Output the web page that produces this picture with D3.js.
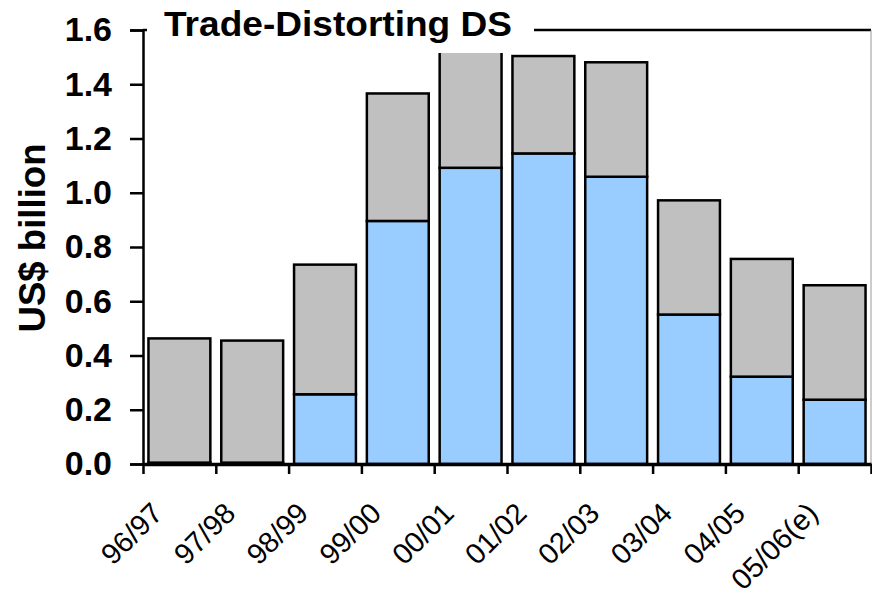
<!DOCTYPE html>
<html>
<head>
<meta charset="utf-8">
<script src="https://cdn.jsdelivr.net/npm/d3@7"></script>
<style>
  body { margin: 0; background: #fff; }
  svg { display: block; font-family: "Liberation Sans", Arial, sans-serif; }
</style>
</head>
<body>
<div class="chart"></div>
<script>
const WIDTH = 872;
const HEIGHT = 597;
const LEFT = 143, RIGHT = 871, TOP = 30, BOTTOM = 464;

// data (US$ billion)
var seasons = ['96/97', '97/98', '98/99', '99/00', '00/01', '01/02', '02/03', '03/04', '04/05', '05/06(e)'];
var blueValues = [0.005, 0.005, 0.257, 0.896, 1.092, 1.145, 1.059, 0.551, 0.322, 0.237];
var greyValues = [0.458, 0.450, 0.478, 0.470, 0.490, 0.359, 0.422, 0.421, 0.434, 0.422];
var yTicks = [0, 0.2, 0.4, 0.6, 0.8, 1.0, 1.2, 1.4, 1.6];
var seriesKeys = ['blue', 'grey'];
var seriesColors = ['#99ccff', '#c0c0c0'];

var translate = function (x, y) {
  return 'translate(' + x + ',' + y + ')';
};

var rows = seasons.map(function (s, i) {
  return { season: s, blue: blueValues[i], grey: greyValues[i] };
});
var stacked = d3.stack().keys(seriesKeys)(rows);

var xScale = d3.scaleBand()
  .domain(seasons)
  .range([LEFT, RIGHT])
  .paddingInner(0.15)
  .paddingOuter(0.075);

var xEdge = d3.scaleLinear()
  .domain([0, seasons.length])
  .range([LEFT, RIGHT]);

var yScale = d3.scaleLinear()
  .domain([0, 1.6])
  .range([BOTTOM, TOP]);

var svg = d3.select('.chart').append('svg')
  .attr('width', WIDTH)
  .attr('height', HEIGHT);

// plot frame: top and right
svg.append('line')
  .attr('x1', LEFT).attr('x2', RIGHT)
  .attr('y1', TOP).attr('y2', TOP)
  .attr('stroke', '#000').attr('stroke-width', 2.5);
svg.append('line')
  .attr('x1', RIGHT).attr('x2', RIGHT)
  .attr('y1', TOP).attr('y2', BOTTOM)
  .attr('stroke', '#999').attr('stroke-width', 1);

// bars
svg.append('g').selectAll('g')
  .data(stacked)
  .enter().append('g')
  .attr('fill', function (d, i) { return seriesColors[i]; })
  .selectAll('rect')
  .data(function (d) { return d; })
  .enter().append('rect')
  .attr('x', function (d) { return xScale(d.data.season); })
  .attr('width', xScale.bandwidth())
  .attr('y', function (d) { return yScale(d[1]); })
  .attr('height', function (d) { return yScale(d[0]) - yScale(d[1]); })
  .attr('stroke', '#000')
  .attr('stroke-width', 2.5);

// title box covers the frame and the top of the tallest bar
svg.append('rect')
  .attr('x', 147).attr('y', 0)
  .attr('width', 387).attr('height', 53)
  .attr('fill', '#fff');
svg.append('text')
  .attr('x', 164).attr('y', 36)
  .attr('font-size', 35)
  .attr('font-weight', 'bold')
  .attr('textLength', 348)
  .attr('lengthAdjust', 'spacingAndGlyphs')
  .text('Trade-Distorting DS');

// y axis
var yAxis = d3.axisLeft(yScale)
  .tickValues(yTicks)
  .tickSize(13)
  .tickPadding(18)
  .tickFormat(d3.format('.1f'));
var gy = svg.append('g')
  .attr('transform', translate(LEFT, 0))
  .call(yAxis);
gy.select('.domain').attr('stroke-width', 2.5);
gy.selectAll('.tick line').attr('stroke-width', 2.5);
gy.selectAll('text')
  .attr('font-size', 34)
  .attr('font-weight', 'bold')
  .attr('font-family', '"Liberation Sans", Arial, sans-serif')
  .attr('fill', '#000');

// x axis: ticks between categories
var xTickAxis = d3.axisBottom(xEdge)
  .tickValues(d3.range(seasons.length + 1))
  .tickSize(10)
  .tickSizeOuter(0)
  .tickFormat('');
var gx = svg.append('g')
  .attr('transform', translate(0, BOTTOM))
  .call(xTickAxis);
gx.select('.domain').attr('stroke-width', 3.5);
gx.selectAll('.tick line').attr('stroke-width', 2.5);

var xLabelAxis = d3.axisBottom(xScale).tickSize(0).tickPadding(0);
var gl = svg.append('g')
  .attr('transform', translate(0, BOTTOM))
  .call(xLabelAxis);
gl.select('.domain').remove();
gl.selectAll('text')
  .attr('font-size', 29)
  .attr('font-family', '"Liberation Sans", Arial, sans-serif')
  .attr('fill', '#000')
  .attr('text-anchor', 'end')
  .attr('dy', null)
  .attr('y', null)
  .attr('transform', translate(-15, 51) + ' rotate(-45)');

// axis title
svg.append('text')
  .attr('transform', translate(45, 238) + ' rotate(-90)')
  .attr('text-anchor', 'middle')
  .attr('font-size', 36)
  .attr('font-weight', 'bold')
  .attr('textLength', 189)
  .attr('lengthAdjust', 'spacingAndGlyphs')
  .text('US$ billion');
</script>
</body>
</html>
